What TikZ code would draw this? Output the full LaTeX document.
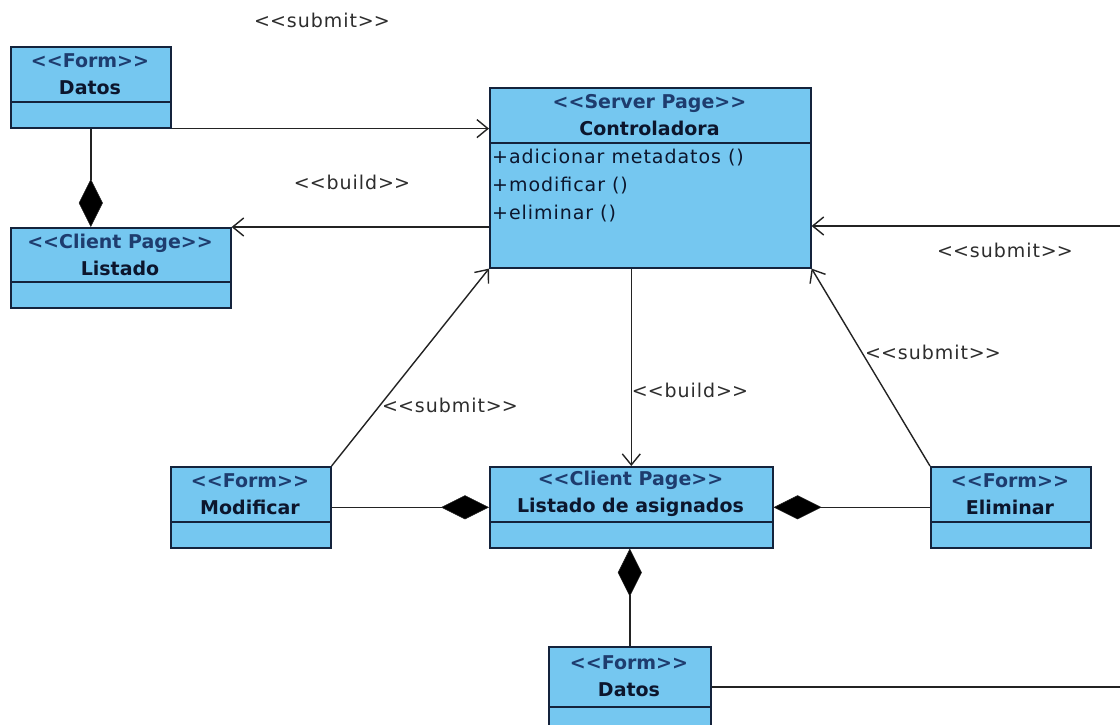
\documentclass[tikz,border=0pt]{standalone}
\usepackage{fontspec}
\setmainfont{DejaVu Sans}
\newfontfamily\trackedfont[LetterSpace=5]{DejaVu Sans}
\usetikzlibrary{arrows.meta}

\definecolor{boxfill}{RGB}{117,199,240}
\definecolor{boxline}{RGB}{20,35,60}
\definecolor{stereo}{RGB}{30,60,110}
\definecolor{titlecol}{RGB}{12,22,45}
\definecolor{wire}{RGB}{35,35,35}
\definecolor{labelgray}{RGB}{45,45,45}

% guillemet-free double angle brackets
\newcommand\stL{<\kern0pt<}
\newcommand\stR{>\kern0pt>}

\tikzset{
  classbox/.style={draw=boxline, fill=boxfill, line width=1.6pt, inner sep=0pt, anchor=north west},
  divider/.style={draw=boxline, line width=1.6pt},
  header/.style={align=center, font=\bfseries\fontsize{19}{27}\selectfont, inner sep=0pt},
  ops/.style={align=left, anchor=north west, font=\trackedfont\fontsize{19}{28}\selectfont, inner sep=0pt, text=titlecol},
  stlabel/.style={font=\trackedfont\fontsize{19}{22}\selectfont, text=labelgray, inner sep=0pt},
  wireline/.style={draw=wire, line width=1.4pt},
  dep/.style={wireline, -{Straight Barb[length=11pt,width=18pt,line width=1.4pt]}},
  comp/.style={wireline, -{Diamond[length=48pt,width=24pt,fill=black,line width=0.5pt]}},
}

% name, x1, y1, x2, y2, y of divider, stereotype, title
\newcommand\umlclass[8]{%
  \node[classbox, minimum width={#4-#2}, minimum height={#5-#3}] (#1) at (#2,#3) {};
  \draw[divider] (#2,#6) -- (#4,#6);
  \node[header] (#1-head) at ({(#2+#4)/2},{(#3+#6)/2})
    {\textcolor{stereo}{\stL#7\stR}\\\textcolor{titlecol}{#8}};
}

\begin{document}
\begin{tikzpicture}[x=1pt,y=-1pt]
  \useasboundingbox (0,0) rectangle (1120,725);
  \clip (0,0) rectangle (1120,725);
  \fill[white] (0,0) rectangle (1120,725);

  % classes
  \umlclass{datosA}{10}{46}{170}{127}{102}{Form}{Datos}
  \umlclass{listado}{10}{227}{230}{307}{282}{Client Page}{Listado}
  \umlclass{ctrl}{489}{87}{810}{267}{143}{Server Page}{Controladora}
  \umlclass{modif}{170}{466}{330}{547}{522}{Form}{Modificar}
  \umlclass{asig}{489}{466}{772}{547}{522}{Client Page}{Listado de asignados}
  \umlclass{elim}{930}{466}{1090}{547}{522}{Form}{Eliminar}
  \umlclass{datosB}{548}{646}{710}{732}{707}{Form}{Datos}

  \node[ops] (ctrl-ops) at (492,149)
    {+adicionar metadatos ()\\+modificar ()\\+eliminar ()};

  % free ends of the connectors that leave the sheet on the right
  \coordinate (rightIn) at (1120,226);
  \coordinate (rightOut) at (1120,687);

  % dependencies
  \draw[dep] (datosA.south east) -- (ctrl.west |- datosA.south east);
  \draw[dep] (ctrl.west |- listado.north east) -- (listado.north east);
  \draw[dep] (rightIn) -- (ctrl.east |- rightIn);
  \draw[dep] (modif.north east) -- (ctrl.south west);
  \draw[dep] (elim.north west) -- (ctrl.south east);
  \draw[dep] (ctrl.south -| asig.north) -- (asig.north);
  \draw[wireline] (datosB.east |- rightOut) -- (rightOut);

  % compositions
  \draw[comp] (datosA.south) -- (datosA.south |- listado.north);
  \draw[comp] (modif.east) -- (asig.west);
  \draw[comp] (elim.west) -- (asig.east);
  \draw[comp] (datosB.north) -- (datosB.north |- asig.south);

  % connector labels
  \node[stlabel] (lbl-submit-top) at (322,20) {\stL submit\stR};
  \node[stlabel] (lbl-build-left) at (352,182) {\stL build\stR};
  \node[stlabel] (lbl-submit-right) at (1005,250) {\stL submit\stR};
  \node[stlabel] (lbl-submit-elim) at (933,352) {\stL submit\stR};
  \node[stlabel] (lbl-submit-modif) at (450,405) {\stL submit\stR};
  \node[stlabel] (lbl-build-down) at (690,390) {\stL build\stR};
\end{tikzpicture}
\end{document}
